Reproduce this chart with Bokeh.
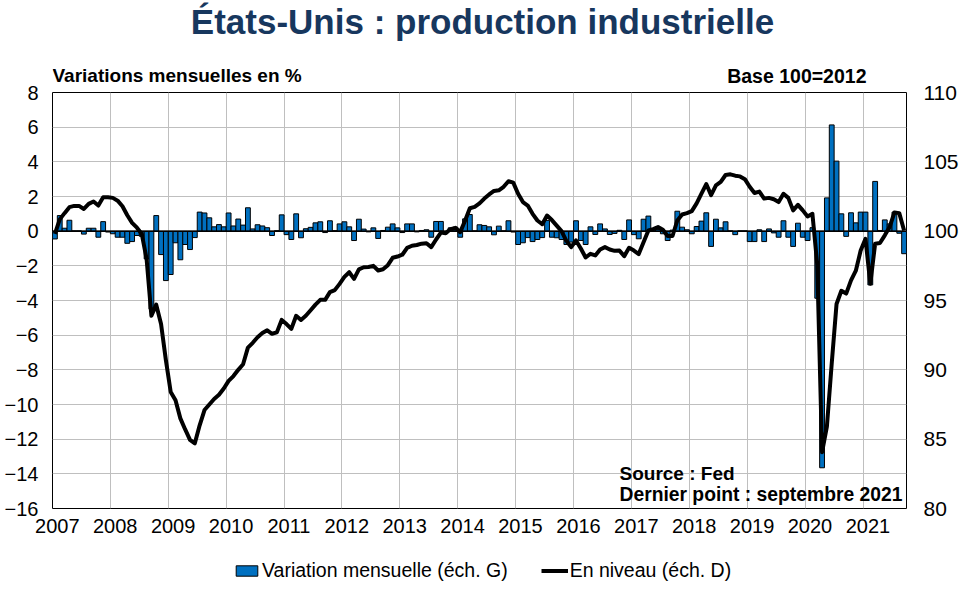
from bokeh.plotting import figure
from bokeh.layouts import column
from bokeh.models import Range1d, LinearAxis, FixedTicker, Span, Label, Legend, LegendItem
from bokeh.embed import file_html
from bokeh.resources import INLINE

# ---- data (monthly, Jan 2007 .. Sep 2021) ----
years = ["2007", "2008", "2009", "2010", "2011", "2012", "2013", "2014",
         "2015", "2016", "2017", "2018", "2019", "2020", "2021"]

# Variation mensuelle en % (left scale)
variation = [
    -0.45, 0.9, 0.17, 0.63, 0.02, 0.02, -0.17, 0.17, 0.17, -0.35, 0.55, -0.05,     # 2007
    -0.15, -0.35, -0.35, -0.7, -0.6, -0.25, -0.3, -1.6, -4.5, 0.9, -1.35, -2.85,    # 2008
    -2.5, -0.67, -1.65, -0.77, -1.06, -0.37, 1.1, 1.05, 0.77, 0.25, 0.38, 0.25,     # 2009
    1.05, 0.3, 0.7, 0.35, 1.35, 0.13, 0.37, 0.3, 0.2, -0.25, 0.03, 0.94,            # 2010
    -0.2, -0.48, 1.0, -0.38, 0.14, 0.22, 0.48, 0.54, -0.08, 0.6, 0.03, 0.42,        # 2011
    0.54, 0.25, -0.54, 0.69, 0.12, -0.04, 0.19, -0.42, 0.04, 0.23, 0.42, 0.19,      # 2012
    -0.08, 0.42, 0.42, -0.04, 0.04, 0.08, -0.35, 0.56, 0.56, -0.04, 0.19, 0.23,     # 2013
    -0.35, 0.71, 0.96, 0.02, 0.37, 0.33, 0.25, -0.21, 0.29, 0.02, 0.6, -0.05,       # 2014
    -0.77, -0.67, -0.37, -0.6, -0.48, -0.37, 0.62, -0.35, -0.38, -0.48, -0.77, -0.63,  # 2015
    0.6, -0.54, -0.77, 0.25, -0.19, 0.42, 0.13, -0.19, -0.13, 0.05, -0.48, 0.65,    # 2016
    -0.2, -0.44, 0.69, 0.87, 0.08, 0.1, -0.15, -0.54, 0.06, 1.15, 0.23, 0.08,       # 2017
    -0.15, 0.27, 0.58, 1.06, -0.88, 0.69, 0.19, 0.54, 0.02, -0.2, 0.02, 0.02,       # 2018
    -0.6, -0.6, 0.08, -0.6, 0.13, -0.1, -0.35, 0.6, -0.35, -0.88, 0.46, -0.35,      # 2019
    -0.54, 0.2, -3.87, -13.65, 1.92, 6.13, 4.04, 1.0, -0.3, 1.06, 0.48, 1.1,       # 2020
    1.1, -3.1, 2.87, 0.04, 0.65, 0.42, 1.1, -0.12, -1.3,                            # 2021
]

# En niveau, base 100 = 2012 (right scale)
niveau = [
    99.8, 100.85, 101.3, 101.73, 101.82, 101.82, 101.6, 101.97, 102.14, 101.85, 102.45, 102.45,  # 2007
    102.4, 102.2, 101.8, 101.15, 100.6, 100.25, 99.8, 98.0, 93.9, 94.7, 93.3, 90.7,              # 2008
    88.4, 87.8, 86.5, 85.7, 84.95, 84.7, 86.0, 87.1, 87.5, 87.9, 88.2, 88.65,                    # 2009
    89.2, 89.55, 90.0, 90.4, 91.6, 91.95, 92.35, 92.65, 92.85, 92.6, 92.7, 93.6,                 # 2010
    93.3, 92.95, 93.9, 93.6, 93.9, 94.3, 94.7, 95.05, 95.05, 95.6, 95.75, 96.2,                  # 2011
    96.7, 97.04, 96.56, 97.25, 97.4, 97.42, 97.5, 97.16, 97.25, 97.55, 98.08, 98.17,             # 2012
    98.3, 98.8, 98.95, 99.0, 99.1, 99.13, 98.85, 99.4, 99.9, 99.85, 100.15, 100.24,              # 2013
    99.93, 100.75, 101.65, 101.75, 102.0, 102.35, 102.65, 102.9, 102.95, 103.2, 103.6, 103.5,    # 2014
    102.7, 102.1, 101.85, 101.25, 100.77, 100.5, 101.13, 100.8, 100.4, 100.0, 99.3, 98.85,       # 2015
    99.33, 98.75, 98.1, 98.37, 98.25, 98.68, 98.85, 98.68, 98.58, 98.6, 98.2, 98.8,              # 2016
    98.6, 98.35, 99.2, 100.05, 100.15, 100.3, 100.1, 99.65, 99.65, 100.77, 101.2, 101.3,         # 2017
    101.45, 102.0, 102.7, 103.4, 102.6, 103.3, 103.55, 104.05, 104.1, 104.0, 103.95, 103.75,     # 2018
    103.2, 102.75, 102.85, 102.35, 102.4, 102.3, 102.1, 102.7, 102.4, 101.5, 101.9, 101.5,       # 2019
    101.06, 101.25, 97.6, 84.06, 85.9, 90.45, 94.75, 95.7, 95.5, 96.45, 97.15, 98.6,             # 2020
    99.45, 96.2, 99.1, 99.15, 99.7, 100.3, 101.35, 101.3, 100.05,                                # 2021
]

left_ticks = list(range(-16, 9, 2))
right_ticks = list(range(80, 111, 5))

FONT = "Liberation Sans"
BLUE = "#0070C0"
TITLE_COLOR = "#17375E"
GRID = "#BFBFBF"
W = 961
FRAME_LEFT = 52          # page x of the plot frame's left edge (frames are aligned in the column)


def bare(h, xr=(0, 1), yr=(0, 1)):
    f = figure(width=W, height=h, output_backend="svg", toolbar_location=None,
               x_range=Range1d(*xr), y_range=Range1d(*yr), min_border=0,
               x_axis_location=None, y_axis_location=None,
               outline_line_color=None, background_fill_color="white",
               border_fill_color="white")
    f.grid.visible = False
    return f


def lab(fig, txt, x, y, size, align="left", color="black"):
    fig.add_layout(Label(x=x, y=y, x_units="screen", y_units="screen", text=txt,
                         text_align=align, text_baseline="middle", text_font=FONT,
                         text_font_size=size, text_font_style="bold",
                         text_color=color))


# ---- header ----
HH = 84
header = bare(HH)
lab(header, "États-Unis : production industrielle", 482 - FRAME_LEFT, HH - 21, "35px",
    align="center", color=TITLE_COLOR)
lab(header, "Variations mensuelles en %", 0, HH - 75, "19px")
lab(header, "Base 100=2012", 866 - FRAME_LEFT, HH - 75, "19.5px", align="right")

# ---- main chart ----
n = len(variation)
xs = [i + 0.5 for i in range(n)]
year_pos = [12 * k for k in range(len(years))]
label_pos = [12 * k + 1 for k in range(len(years))]

MH = 460
TOP = 8
p = figure(width=W, height=MH, output_backend="svg", toolbar_location=None,
           x_range=Range1d(0, n), y_range=Range1d(-16, 8),
           min_border_left=FRAME_LEFT, min_border_right=55, min_border_top=TOP,
           min_border_bottom=MH - TOP - 416,
           background_fill_color="white", border_fill_color="white")
p.extra_y_ranges = {"right": Range1d(80, 110)}
p.outline_line_color = "black"
p.outline_line_width = 1

p.xaxis.ticker = FixedTicker(ticks=label_pos)
p.xaxis.major_label_overrides = {pos: y for pos, y in zip(label_pos, years)}
p.yaxis.ticker = FixedTicker(ticks=left_ticks)
ax_r = LinearAxis(y_range_name="right", ticker=FixedTicker(ticks=right_ticks))
p.add_layout(ax_r, "right")

for ax in p.axis:
    ax.axis_line_color = None
    ax.major_tick_line_color = None
    ax.minor_tick_line_color = None
    ax.major_tick_out = 0
    ax.major_tick_in = 0
    ax.minor_tick_out = 0
    ax.minor_tick_in = 0
    ax.major_label_text_font = FONT
    ax.major_label_text_font_size = "20px"
    ax.major_label_text_color = "black"
p.xaxis.major_label_standoff = 10
p.yaxis[0].major_label_standoff = 14
ax_r.major_label_standoff = 17
ax_r.major_label_text_font_size = "21px"

p.xgrid.ticker = FixedTicker(ticks=year_pos)
p.xgrid.grid_line_color = GRID
p.ygrid.grid_line_color = GRID

bars = p.vbar(x=xs, top=variation, bottom=0, width=1.0,
              fill_color=BLUE, line_color="black", line_width=1)
p.add_layout(Span(location=0, dimension="width", line_color="black", line_width=1.5))
line = p.line(x=xs, y=niveau, y_range_name="right", line_color="black",
              line_width=4, line_join="round")

lab(p, "Source : Fed", 567, 35, "19px")
lab(p, "Dernier point : septembre 2021", 567, 14, "19.3px")

# ---- footer with legend (legend-only renderers, kept outside the visible range) ----
FH = 594 - HH - MH
footer = bare(FH, xr=(10000, 11000), yr=(10000, 11000))
lg_bar = footer.vbar(x=xs, top=variation, bottom=0, width=1.0,
                     fill_color=BLUE, line_color="black", line_width=1)
lg_line = footer.line(x=xs, y=niveau, line_color="black", line_width=4)
legend = Legend(items=[LegendItem(label="Variation mensuelle (éch. G)", renderers=[lg_bar]),
                       LegendItem(label="En niveau (éch. D)", renderers=[lg_line])],
                orientation="horizontal", location=(233 - FRAME_LEFT, 22 - 10),
                glyph_width=27, glyph_height=13, label_standoff=2, spacing=33,
                padding=0, margin=0, border_line_color=None, background_fill_alpha=0,
                label_text_font=FONT, label_text_font_size="19.5px",
                label_text_color="black", label_height=20)
footer.add_layout(legend)

layout = column(header, p, footer, spacing=0)
open("out.html", "w").write(file_html(layout, INLINE))
